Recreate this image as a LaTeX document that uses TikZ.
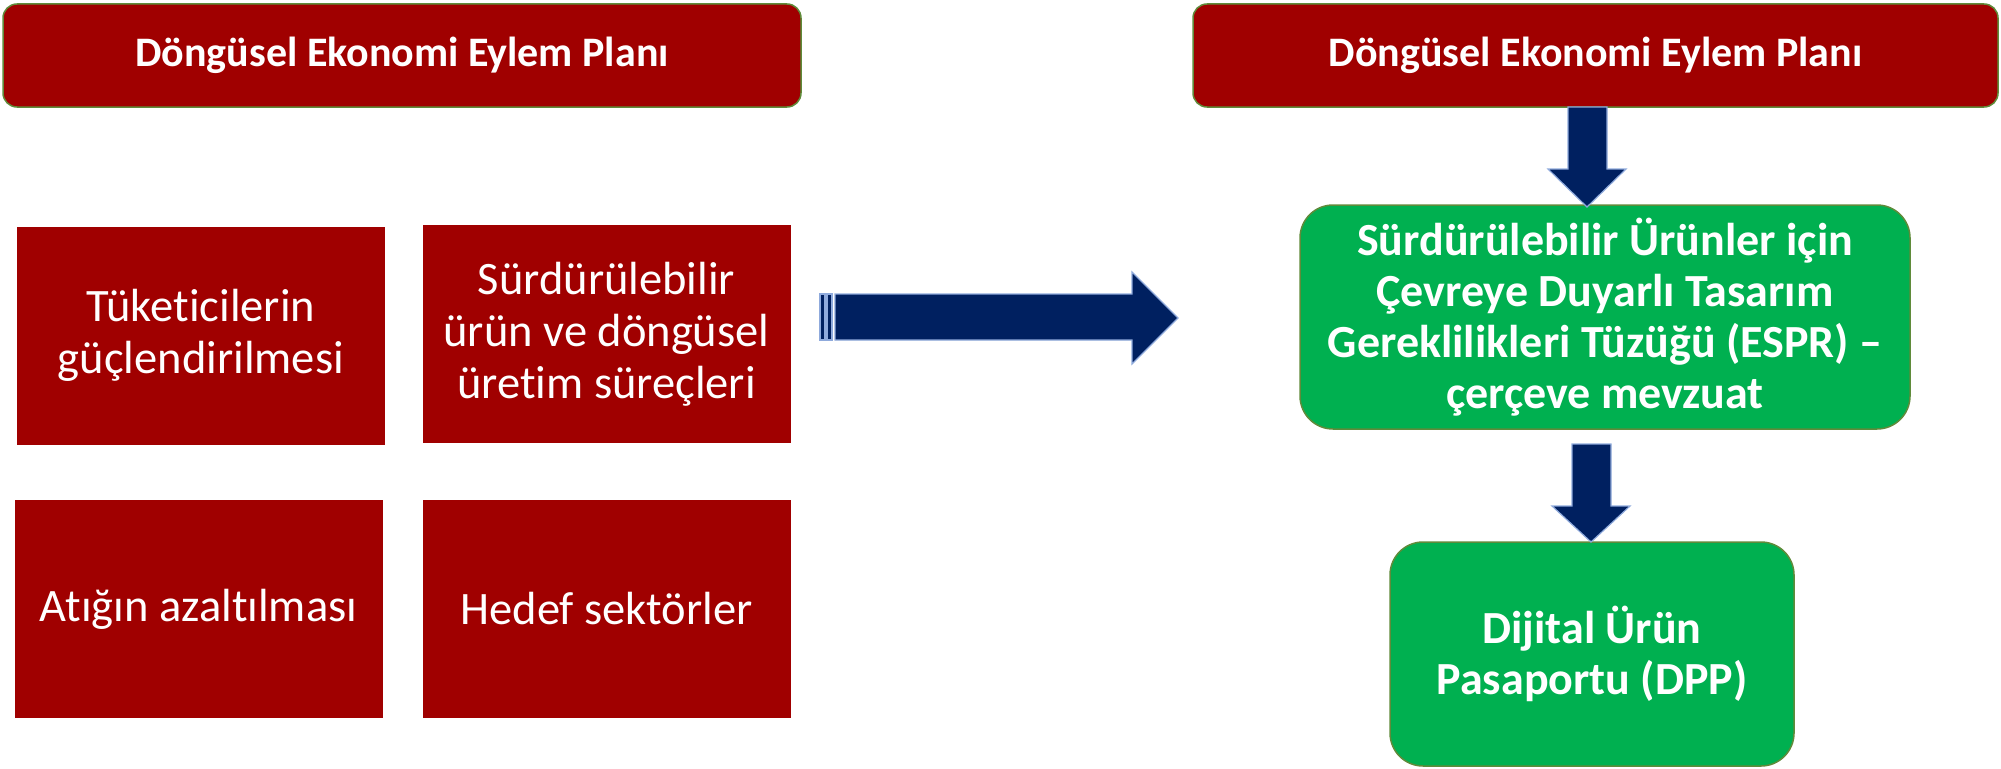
\documentclass[tikz,border=0pt]{standalone}
\usepackage{fontspec}
\setmainfont[Ligatures=NoCommon]{Carlito}
\usepackage{tikz}

\definecolor{darkred}{HTML}{A00000}
\definecolor{boxgreen}{HTML}{00B050}
\definecolor{navy}{HTML}{002060}
\definecolor{olive}{HTML}{5F8B3A}
\definecolor{arrowrim}{HTML}{8FAADC}

\begin{document}
\begin{tikzpicture}[x=1pt,y=-1pt,
  every node/.style={align=center, inner sep=0pt, outer sep=0pt, text=white},
  header/.style={fill=darkred, draw=olive, line width=1.5pt, rounded corners=14pt,
    minimum width=798pt, minimum height=103pt, font=\fontsize{42}{50}\selectfont\bfseries},
  topic/.style={fill=darkred, minimum width=368pt, minimum height=218pt,
    font=\fontsize{46.5}{52}\selectfont},
  greenbox/.style={fill=boxgreen, draw=olive, line width=1.5pt, rounded corners=33pt,
    minimum height=224pt, font=\fontsize{46}{51}\selectfont\bfseries},
  blockarrow/.style={fill=navy, draw=arrowrim, line width=1.2pt}]
\useasboundingbox (0,0) rectangle (2001,768);

% headers
\node[header] (hdrL) at (402,55.5) {Döngüsel Ekonomi Eylem Planı};
\node[header, minimum width=805pt] (hdrR) at (1595.5,55.5) {Döngüsel Ekonomi Eylem Planı};

% four topics
\node[topic] (tuk) at (201,335.5) {Tüketicilerin\\güçlendirilmesi};
\node[topic] (surd) at (606.5,334) {Sürdürülebilir\\ürün ve döngüsel\\üretim süreçleri};
\node[topic] (atik) at (198.5,609) {Atığın azaltılması};
\node[topic] (hedef) at (606.5,609) {Hedef sektörler};

% right column
\node[greenbox, minimum width=610pt] (espr) at (1605,317)
  {Sürdürülebilir Ürünler için\\Çevreye Duyarlı Tasarım\\Gereklilikleri Tüzüğü (ESPR) –\\çerçeve mevzuat};
\node[greenbox, minimum width=404pt] (dpp) at (1592,654) {Dijital Ürün\\Pasaportu (DPP)};

% striped arrow
\draw[blockarrow] (820,294) rectangle (825,340);
\draw[blockarrow] (827,294) rectangle (832,340);
\draw[blockarrow] (835,294) -- (1132,294) -- (1132,272) -- (1178,318)
  -- (1132,364) -- (1132,340) -- (835,340) -- cycle;

% down arrows
\draw[blockarrow] (1568,107) -- (1607,107) -- (1607,169) -- (1626,169) -- (1587,207)
  -- (1548,169) -- (1568,169) -- cycle;
\draw[blockarrow] (1572,444) -- (1611,444) -- (1611,506) -- (1630,506) -- (1591,542)
  -- (1552,506) -- (1572,506) -- cycle;
\end{tikzpicture}
\end{document}
